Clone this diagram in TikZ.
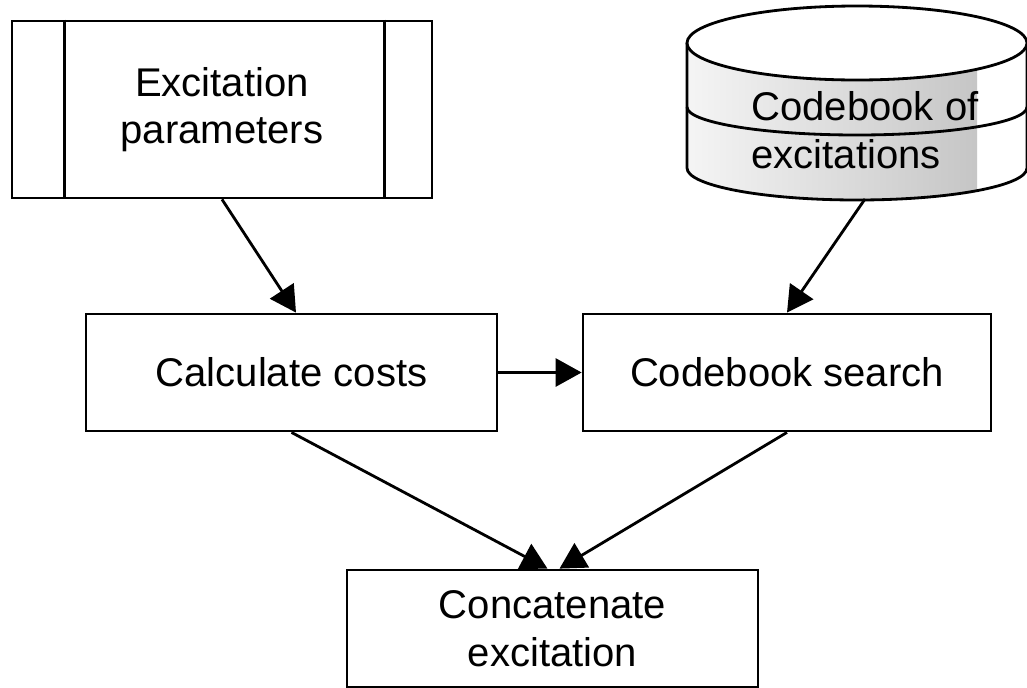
\documentclass[tikz,border=0pt]{standalone}
\usepackage{fontspec}
\setmainfont{Liberation Sans}
\usetikzlibrary{arrows.meta}
\begin{document}
\begin{tikzpicture}[x=0.02cm, y=0.02cm, line width=1.6pt,
        box/.style={draw, rectangle, align=center, inner sep=0pt, font=\fontsize{22.8}{27}\selectfont},
        arr/.style={-{Triangle[length=0.52cm, width=0.56cm]}}]
            \useasboundingbox (0,0) rectangle (1027,-687);

            \node[box, minimum width=8.4cm, minimum height=3.54cm] (EP) at (222, -109.5) {Excitation\\parameters};
            \draw ([xshift=1.08cm]EP.north west) -- ([xshift=1.08cm]EP.south west);
            \draw ([xshift=-0.98cm]EP.north east) -- ([xshift=-0.98cm]EP.south east);

            % codebook store
            \begin{scope}
                \clip (687, -43) -- (687, -168) arc[start angle=180, end angle=360, x radius=170, y radius=32] -- (1027, -43) -- cycle;
                \fill[white] (687, 0) rectangle (1027, -210);
                \shade[left color=gray!8, right color=gray!45] (687, 0) rectangle (977, -210);
            \end{scope}
            \draw (687, -43) -- (687, -168) arc[start angle=180, end angle=360, x radius=170, y radius=32] -- (1027, -43);
            \draw (687, -107) arc[start angle=180, end angle=360, x radius=170, y radius=28];
            \draw[fill=white] (857, -43) ellipse[x radius=170, y radius=37];
            \node[align=left, inner sep=0pt, font=\fontsize{22.8}{27}\selectfont] (CB) at (865, -130) {Codebook of\\excitations};
            \coordinate (CBout) at (865, -199);

            \node[box, minimum width=8.22cm, minimum height=2.34cm] (CC) at (291.5, -372.5) {Calculate costs};
            \node[box, minimum width=8.16cm, minimum height=2.34cm] (CS) at (787, -372.5) {Codebook search};
            \node[box, minimum width=8.22cm, minimum height=2.34cm] (CE) at (552.5, -628.5) {Concatenate\\excitation};

            \draw[arr] (EP.south) -- ([xshift=0.09cm]CC.north);
            \draw[arr] (CBout) -- (CS.north);
            \draw[arr] (CC.east) -- (CS.west);
            \draw[arr] (CC.south) -- ([xshift=-0.1cm]CE.north);
            \draw[arr] (CS.south) -- ([xshift=0.14cm]CE.north);
\end{tikzpicture}
\end{document}
